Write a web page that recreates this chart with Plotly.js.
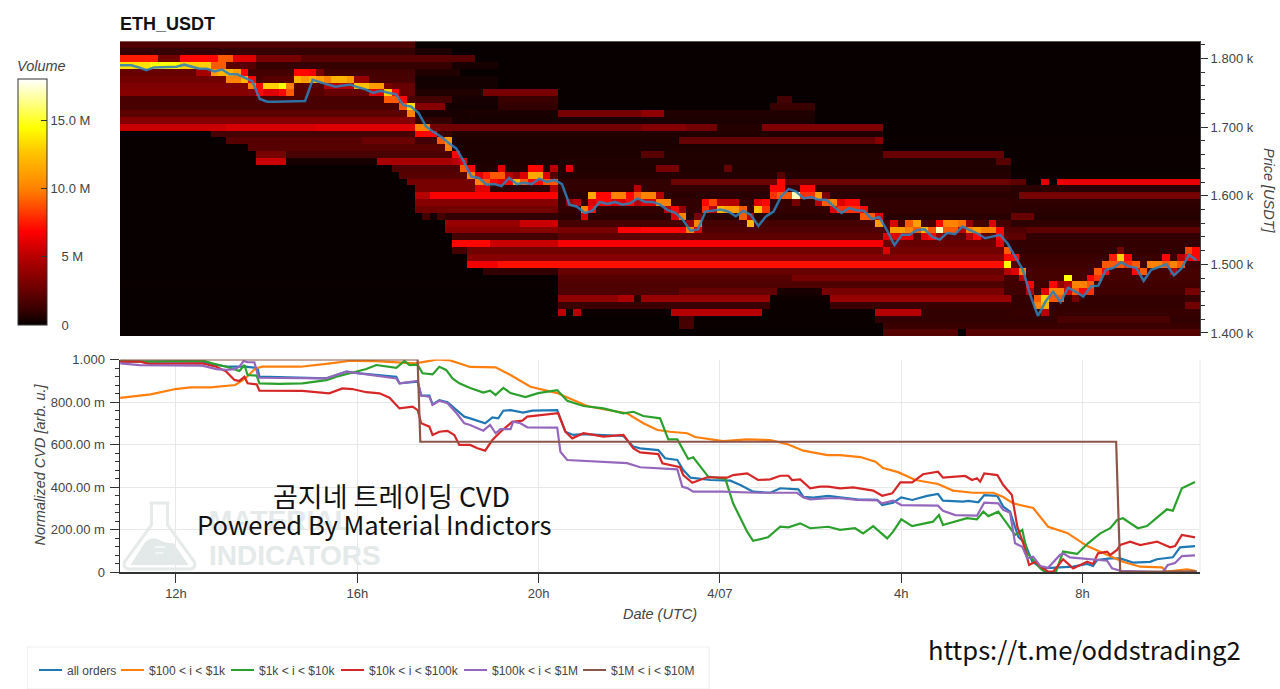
<!DOCTYPE html>
<html><head><meta charset="utf-8">
<script src="https://cdn.plot.ly/plotly-3.0.1.min.js"></script>
<style>html,body{margin:0;padding:0;background:#fff;overflow:hidden}#chart{width:1280px;height:689px}</style>
</head><body><div id="chart"></div>
<script>
// ---------- Volume heatmap: 10-minute columns, 10 USD price bins ----------
const firstHour = 10.765;
const columnCount = 143;
// each row: price, then pairs (end column, volume in M) read along the row
const volumeSpans = [
[1820, 39,1.8, 143,.05],
[1810, 39,1.1, 44,.5, 143,.05],
[1800, 5,7.5, 8,2.8, 13,7, 15,9, 18,6, 24,3, 47,2, 143,.05],
[1790, 4,13.5, 8,14.5, 12,13, 18,2, 44,1.1, 50,.4, 143,.05],
[1780, 10,2.5, 12,4.5, 39,1.5, 45,.6, 143,.05],
[1770, 14,2.8, 39,1.6, 50,.3, 143,.05],
[1760, 17,3.2, 27,2, 39,2.5, 50,.3, 143,.05],
[1750, 18,3.5, 27,2, 39,2.5, 48,.6, 58,3, 143,.05],
[1740, 39,1.6, 44,1.5, 50,.4, 58,1.2, 87,.05, 89,1.5, 143,.05],
[1730, 39,1.6, 43,3.5, 50,.3, 58,1, 86,.05, 92,1.2, 143,.05],
[1720, 39,2.2, 46,.4, 58,.5, 69,3, 72,3.8, 92,.6, 143,.05],
[1710, 39,3.4, 44,1, 58,.4, 92,.5, 143,.05],
[1700, 14,5.5, 26,5.8, 39,6, 69,2.8, 75,3.4, 79,2.8, 85,.7, 101,3.2, 143,.05],
[1690, 12,.05, 40,1.5, 44,1.2, 101,.6, 143,.05],
[1680, 14,.05, 32,2, 39,2.6, 44,1.5, 74,.5, 100,2.4, 101,3.5, 143,.08],
[1670, 17,.05, 44,2, 101,.5, 143,.08],
[1660, 18,.05, 22,3, 44,1.6, 69,.5, 72,2, 101,.6, 117,2.5, 143,.1],
[1650, 18,.05, 22,5.5, 34,.4, 44,4.5, 58,.5, 116,.6, 118,2, 143,.1],
[1640, 36,.05, 47,1.8, 71,.6, 74,3, 80,.6, 81,2.5, 118,.6, 143,.1],
[1630, 37,.05, 50,2, 87,.7, 88,2, 118,.7, 143,.15],
[1620, 38,.05, 48,3, 73,1, 87,2.6, 88,7, 118,2.6, 120,2.2, 122,.1, 123,6, 124,.1, 143,6.2],
[1610, 39,.05, 48,3, 118,1, 143,.8],
[1600, 39,.05, 41,5, 58,6.8, 118,.8, 119,.8, 143,3],
[1590, 39,.05, 58,3.5, 118,1, 143,.9],
[1580, 39,.05, 58,2.8, 118,1, 143,.8],
[1570, 40,.05, 41,1.5, 42,.3, 43,1.5, 58,1, 118,.8, 121,2.5, 143,.7],
[1560, 43,.05, 53,4, 58,5.5, 118,1.5, 143,.9],
[1550, 43,.05, 58,3.5, 66,3, 69,6.8, 75,7, 76,3, 120,1.8, 143,2.2],
[1540, 44,.05, 58,1.5, 120,2.2, 143,1],
[1530, 44,.05, 49,7, 58,5.5, 101,6.6, 117,2.5, 143,1],
[1520, 44,.05, 46,1.5, 117,2.8, 143,1],
[1510, 46,.05, 117,3.5, 143,1.2],
[1500, 46,.05, 50,6.5, 117,7.2, 143,1.3],
[1490, 48,.05, 58,1, 117,2.5, 143,1.5],
[1480, 58,.05, 89,2, 117,3, 143,1.5],
[1470, 58,.1, 117,1.8, 143,1.4],
[1460, 58,.05, 74,1.8, 87,2.4, 93,.4, 117,3, 141,1.3, 143,3],
[1450, 58,.05, 66,3.8, 68,4.6, 69,.8, 86,4, 94,.2, 118,4, 141,1, 143,1.2],
[1440, 58,.05, 86,1.2, 94,.1, 118,1.2, 141,1, 143,2.8],
[1430, 58,.05, 59,5, 60,.1, 61,5, 73,.1, 85,5, 100,.1, 106,5, 118,1, 143,1.1],
[1420, 74,.05, 76,1.5, 100,.1, 124,1, 139,1.6, 143,1],
[1410, 74,.05, 76,1.5, 101,.1, 143,1.2],
[1400, 101,.05, 111,2, 112,.05, 143,2]
];
// cells around the traded price: column, top price, then volumes going downwards
const hotCells = [
[12,1790,9,11],[13,1790,9,12],[14,1780,12,10],[15,1780,11,10],[16,1780,7,12],[17,1770,7,10],[18,1760,7,7],
[19,1770,2,13,6],[20,1770,2,13,6],[21,1770,2,14.5,7],[22,1770,2,10,9],[23,1780,7,12],[24,1780,7,11],[25,1780,6.5,12],
[26,1780,3,11],[27,1770,10,5],[28,1770,12,5],[29,1770,12,5],[30,1770,11,5],[31,1770,4,12.5],[32,1770,4,12.5],
[33,1760,11,6],[34,1760,11,6],[35,1760,3,13,9],[36,1750,7,9],[37,1740,7,9],[38,1730,13.5,10],[39,1700,10,7],[40,1700,10,7],
[41,1690,7],[42,1680,9],[43,1680,11,10],[44,1660,7,5],[45,1650,6,9],[46,1640,7,10],[47,1630,6,10,6],[48,1630,7.5,9,6],
[49,1630,9,7],[50,1640,6,9,6],[51,1630,5,7],[52,1630,4,12],[53,1630,6,9],[54,1640,7,11.5,7],[55,1640,7,11.5,7],
[56,1630,6,9],[57,1640,5,2,9,5],[59,1640,6],[59,1590,4],[60,1590,5],[61,1580,10,6],[62,1600,11.5,6,7],[63,1600,7,7],[64,1600,7,7],
[65,1600,10,6],[66,1600,10,6],[67,1600,7,7],[68,1610,5,9,5],[69,1600,10,6],[70,1600,10,6],[71,1600,5,10],[72,1590,10,5],
[73,1580,7,6],[74,1580,4,10],[75,1560,4,10],[76,1570,3,10,6],[77,1590,7,8],[78,1590,8.5,5],[79,1590,5,12],[80,1590,5,11],
[81,1590,5,11],[82,1580,9,9],[83,1570,5,12],[84,1590,6,12.5],[85,1590,7,8],[86,1610,7,8],[87,1620,7,7,9],[88,1600,9],
[89,1600,17,3],[90,1610,7,8],[91,1610,7,8],[92,1600,11,5],[93,1600,3,9],[94,1590,10,6],[95,1590,6,8],[96,1590,7,8],[97,1590,7,8],
[98,1580,7,9],[99,1570,9],[100,1570,6,11],[101,1540,6],[101,1520,6],[102,1560,6,11,6],[103,1550,11,6],[104,1560,9,10,6],
[105,1560,11,9],[106,1550,12,6],[107,1550,9,7],[108,1560,7,17,4],[109,1560,10,9],[110,1560,10,9],[111,1560,9.5,5],
[112,1560,4,10,5],[113,1550,11,7],[114,1550,10],[115,1560,6,10],[116,1550,7,7,6],[117,1520,9,7,14.5,5],[118,1510,7,2,6],
[119,1490,10,5],[120,1470,7,5],[121,1450,9,10],[122,1460,6,13,12,5],[123,1470,7,10,9],[124,1470,4,10,9],[125,1480,14.5,5,6],
[126,1470,10,9,3],[127,1470,10,7],[128,1480,7,9,8],[129,1490,9,8],[130,1500,9,7],[131,1510,7.5,9],[132,1520,3,13,9],
[133,1510,7,8],[134,1500,9,7],[135,1490,9],[136,1500,10],[137,1500,10],[138,1510,7,9],[139,1500,10,5],[140,1510,5,9],
[141,1520,8.5,7],[142,1520,7,7]
];
// traded price per 10-minute column
const priceValues = [
1790,1790,1787,1783,1787,1787,1788,1788,1791,1788,1785,1785,1781,1784,1777,1777,1772,1767,1741,1737,1737,1737,1737,1737,1738,
1769,1765,1762,1759,1761,1762,1758,1755,1750,1753,1750,1748,1732,1730,1721,1701,1693,1686,1677,1669,1650,1628,1626,1616,1617,
1614,1626,1617,1619,1617,1625,1620,1623,1617,1587,1584,1575,1578,1591,1588,1591,1587,1589,1596,1591,1591,1587,1579,1575,1565,
1549,1551,1577,1578,1580,1577,1570,1578,1572,1556,1570,1577,1599,1610,1606,1596,1598,1594,1594,1584,1575,1582,1579,1578,1566,
1569,1550,1528,1543,1543,1550,1551,1540,1536,1546,1544,1555,1550,1545,1538,1541,1543,1530,1511,1492,1455,1425,1446,1460,1445,
1466,1460,1453,1468,1469,1492,1495,1503,1497,1495,1476,1492,1496,1500,1484,1494,1514,1506
];
// ---------- Normalized CVD series (hours since 4/06 00:00) ----------
const allOrdersHours = [10.77,12.58,12.89,13.16,13.53,13.80,13.84,15.32,15.76,16.05,16.86,16.93,17.33,17.41,17.59,17.66,17.81,17.99,18.19,18.36,18.49,18.82,18.98,19.11,19.22,19.38,19.66,19.86,20.41,20.59,20.76,20.99,21.87,22.09,22.24,22.64,22.79,23.06,23.19,23.35,23.79,24.23,24.45,24.73,25.11,25.33,25.73,25.84,26.06,26.39,26.65,27.03,27.47,27.58,27.82,28.00,28.24,28.57,28.81,28.92,29.36,29.48,29.70,29.83,30.12,30.25,30.40,30.58,30.73,30.89,31.11,31.44,31.79,32.10,32.23,32.32,32.61,32.83,33.11,33.49,33.64,33.99,34.15,34.48];
const allOrdersValues = [.99,.99,.974,.966,.966,.96,.919,.911,.943,.935,.919,.888,.896,.83,.83,.789,.809,.799,.762,.731,.723,.70,.728,.723,.759,.762,.75,.759,.762,.66,.645,.649,.64,.59,.582,.574,.535,.527,.48,.444,.433,.43,.409,.378,.373,.394,.389,.354,.35,.358,.351,.342,.339,.315,.326,.351,.339,.358,.367,.336,.331,.335,.328,.362,.358,.307,.284,.166,.135,.048,.017,.02,.025,.038,.028,.056,.064,.064,.044,.048,.06,.069,.116,.122];
const orange100Hours = [10.77,11.44,11.99,12.32,12.76,13.31,13.53,13.75,13.91,14.75,15.41,15.85,16.40,17.28,17.50,17.77,18.05,18.49,19.05,19.38,19.82,20.41,20.70,21.07,21.43,21.95,22.31,22.62,22.90,23.28,23.45,23.79,24.07,24.60,25.11,25.48,25.84,26.37,26.65,27.10,27.43,27.60,27.93,28.31,28.81,29.14,29.58,30.03,30.25,30.47,30.91,31.24,31.66,32.10,32.54,32.89,33.27,33.75,33.86,34.08,34.30,34.48];
const orange100Values = [.819,.836,.861,.869,.869,.88,.911,.958,.966,.966,.982,.994,.992,.982,.99,1,.996,.965,.963,.927,.872,.842,.815,.781,.766,.747,.70,.668,.66,.653,.635,.626,.616,.624,.621,.602,.571,.55,.55,.541,.519,.489,.47,.433,.414,.383,.373,.373,.353,.323,.301,.213,.184,.122,.08,.048,.025,.022,.002,.006,.013,.006];
const green1kHours = [10.75,11.32,12.07,12.63,12.80,13.11,13.40,13.51,13.58,13.78,13.84,14.28,14.79,15.32,15.54,15.89,16.20,16.42,16.86,17.04,17.15,17.33,17.44,17.66,17.81,17.96,18.10,18.25,18.49,18.78,18.93,19.05,19.22,19.38,19.71,19.99,20.41,20.63,20.99,21.43,21.87,22.09,22.31,22.68,22.86,23.06,23.30,23.41,23.74,24.12,24.29,24.60,24.73,25.06,25.33,25.51,25.77,25.99,26.39,26.65,26.98,27.16,27.38,27.69,27.82,28.00,28.24,28.70,28.83,28.92,29.45,29.67,29.81,29.92,30.14,30.33,30.51,30.67,30.78,31.07,31.17,31.41,31.57,31.88,32.12,32.39,32.61,32.76,32.89,33.22,33.42,33.86,33.99,34.19,34.48];
const green1kValues = [.994,.99,.993,.993,.982,.966,.946,.974,.927,.924,.888,.885,.888,.903,.919,.94,.955,.974,.961,.993,.974,.976,.935,.93,.966,.951,.911,.888,.866,.844,.853,.833,.866,.842,.823,.842,.856,.806,.781,.77,.747,.754,.734,.723,.624,.624,.532,.54,.449,.438,.323,.19,.147,.163,.213,.21,.229,.206,.213,.198,.206,.182,.216,.158,.19,.248,.216,.237,.268,.221,.253,.248,.284,.263,.284,.229,.174,.198,.088,.017,0,0,.096,.085,.135,.182,.206,.245,.253,.206,.216,.295,.288,.394,.424];
const red10kHours = [10.77,11.20,11.42,12.58,12.89,13.11,13.29,13.40,13.51,13.58,13.78,13.84,14.79,15.38,15.67,15.89,16.20,16.49,16.71,16.93,17.22,17.33,17.41,17.59,17.66,17.81,17.99,18.14,18.25,18.41,18.49,18.65,18.82,18.98,19.16,19.42,19.64,19.75,20.08,20.43,20.59,20.74,20.99,21.43,21.87,22.09,22.24,22.64,22.73,23.12,23.19,23.39,23.72,24.16,24.29,24.60,24.84,25.11,25.33,25.51,25.59,25.77,25.99,26.21,26.39,26.65,26.94,27.38,27.58,27.80,27.98,28.24,28.48,28.81,28.92,29.41,29.56,29.67,29.74,29.83,30.12,30.25,30.44,30.56,30.69,30.82,30.96,31.07,31.24,31.35,31.57,31.79,32.10,32.23,32.34,32.54,32.61,32.76,32.83,33.05,33.27,33.64,33.93,34.04,34.19,34.48];
const red10kValues = [.99,.99,.979,.982,.966,.943,.904,.899,.919,.888,.883,.853,.852,.841,.864,.861,.846,.841,.82,.77,.778,.762,.70,.684,.645,.66,.664,.645,.598,.598,.598,.582,.571,.621,.66,.707,.712,.731,.739,.747,.66,.629,.653,.637,.645,.582,.563,.555,.512,.493,.456,.42,.446,.444,.456,.464,.433,.436,.453,.453,.433,.436,.394,.402,.402,.394,.398,.383,.359,.37,.422,.422,.46,.472,.444,.452,.433,.441,.425,.464,.456,.409,.362,.213,.135,.033,.048,.025,.002,.002,.06,.017,.048,.038,.088,.096,.08,.104,.127,.143,.127,.143,.116,.122,.174,.163];
const purple100kHours = [10.77,11.20,12.58,12.89,13.11,13.29,13.40,13.49,13.58,13.73,13.82,15.32,15.76,16.86,16.93,17.33,17.41,17.59,17.66,17.81,17.99,18.19,18.36,18.49,18.78,18.93,19.05,19.16,19.38,19.44,19.60,19.75,20.41,20.48,20.63,21.43,21.95,22.24,23.06,23.17,23.28,23.41,24.07,24.82,25.70,25.84,25.99,26.39,26.65,27.03,27.47,27.58,27.82,28.00,28.81,28.92,29.19,29.67,29.83,30.14,30.25,30.40,30.51,30.67,30.78,30.91,31.07,31.24,31.50,31.57,31.72,32.54,32.65,32.83,33.77,33.88,34.04,34.19,34.48];
const purple100kValues = [.982,.974,.971,.955,.951,.955,.966,.993,.987,.987,.914,.911,.943,.911,.888,.899,.83,.825,.786,.806,.794,.747,.70,.692,.665,.692,.653,.672,.672,.707,.70,.681,.679,.566,.527,.519,.512,.493,.483,.401,.395,.378,.378,.373,.373,.351,.342,.347,.347,.339,.337,.323,.336,.315,.312,.288,.268,.265,.326,.323,.292,.279,.135,.119,.064,.072,.028,.02,.08,.088,.069,.053,.017,.006,0,.033,.042,.075,.078];
const brown1mHours = [10.77,17.33,17.39,32.74,32.83,34.52];
const brown1mValues = [1,1,.613,.613,0,.003];
const seriesNames = ['all orders','$100 < i < $1k','$1k < i < $10k','$10k < i < $100k','$100k < i < $1M','$1M < i < $10M'];
const seriesColors = ['#1f77b4','#ff7f0e','#2ca02c','#d62728','#9467bd','#8c564b'];
// ---------- Axis labels ----------
const timeTickValues = [12,16,20,24,28,32];
const timeTickLabels = ['12h','16h','20h','4/07','4h','8h'];
const priceTickValues = [1400,1500,1600,1700,1800];
const priceTickLabels = ['1.400 k','1.500 k','1.600 k','1.700 k','1.800 k'];
const cvdTickValues = [0,.2,.4,.6,.8,1];
const cvdTickLabels = ['0','200.00 m','400.00 m','600.00 m','800.00 m','1.000'];
const volumeTickValues = [0,5,10,15];
const volumeTickLabels = ['\u00a0\u00a0\u00a00','\u00a0\u00a0\u00a05 M','10.0 M','15.0 M'];
// left edge of each legend entry, in pixels of the page
const legendEntryLeft = [27,109,219,329,452,571];

// ---------- Build ----------
const columnHours = Array.from({length:columnCount},(_,i)=>firstHour+(i+.5)/6);
const priceBins = volumeSpans.map(r=>r[0]).reverse();
const z = priceBins.map(()=>new Array(columnCount).fill(0));
volumeSpans.forEach(r=>{
  const row = z[priceBins.indexOf(r[0])];
  let c = 0;
  for(let k=1;k<r.length;k+=2){ for(;c<r[k];c++) row[c]=r[k+1]; }
});
hotCells.forEach(h=>{
  for(let k=2;k<h.length;k++){
    const idx = priceBins.indexOf(h[1]-(k-2)*10);
    if(idx>=0) z[idx][h[0]] = h[k];
  }
});
const TXT='#444';
const FONT='Liberation Sans, Arial, sans-serif';
const CJK='"Noto Sans CJK KR", "Noto Sans", sans-serif';
const L=119.5,R=1200,T=41,B=572;
const px=x=>(x-L)/(R-L), py=y=>(B-y)/(B-T);

const cvdHours=[allOrdersHours,orange100Hours,green1kHours,red10kHours,purple100kHours,brown1mHours];
const cvdValues=[allOrdersValues,orange100Values,green1kValues,red10kValues,purple100kValues,brown1mValues];
const traces=[{
  type:'heatmap',x:columnHours,y:priceBins,z:z,xaxis:'x2',yaxis:'y2',zmin:0,zmax:18,showlegend:false,hoverinfo:'skip',
  colorscale:[[0,'#060000'],[.06,'#360000'],[.15,'#6e0000'],[.28,'#b80000'],[.38,'#ff0000'],[.55,'#ff8000'],[.7,'#ffc400'],[.8,'#ffff00'],[1,'#ffffff']],
  colorbar:{x:px(17),xanchor:'left',xpad:0,y:py(325),yanchor:'bottom',ypad:0,
    len:267,lenmode:'pixels',thickness:29,thicknessmode:'pixels',outlinecolor:'#333',outlinewidth:1,
    tickmode:'array',tickvals:volumeTickValues,ticktext:volumeTickLabels,ticks:'inside',ticklen:6,tickcolor:'#333',
    tickfont:{family:FONT,size:13,color:TXT},
    title:{text:'Volume',side:'top',font:{family:FONT,size:14.5,style:'italic',color:TXT}}}
},{
  type:'scatter',mode:'lines',x:[firstHour].concat(columnHours),y:[priceValues[0]].concat(priceValues),xaxis:'x2',yaxis:'y2',
  showlegend:false,hoverinfo:'skip',opacity:.88,line:{color:'#2f7fb8',width:2.5}
}];
seriesNames.forEach((n,i)=>traces.push({type:'scatter',mode:'lines',name:n,x:cvdHours[i],y:cvdValues[i],xaxis:'x',yaxis:'y',
  legend:i?('legend'+(i+1)):'legend',line:{color:seriesColors[i],width:2.2}}));

const flask = `<svg xmlns="http://www.w3.org/2000/svg" viewBox="0 0 76 70"><path d="M28 2h20M30 2v22L3 61q-2 7 6 7h58q8 0 6-7L46 24V2" fill="none" stroke="#e6ebea" stroke-width="3"/><path d="M9 64l14-22q7-7 15-3t14 3l15 22z" fill="#e3e9e8"/><path d="M33 46h11M34 52h8" stroke="#f4f6f6" stroke-width="2"/></svg>`;

const layout={
  width:1280,height:689,paper_bgcolor:'#fff',plot_bgcolor:'#fff',
  margin:{l:L,r:1280-R,t:T,b:689-B,autoexpand:false},
  font:{family:FONT,size:12,color:TXT},
  title:{text:'<b>ETH_USDT</b>',x:120/1280,xanchor:'left',xref:'container',y:1-24/689,yanchor:'middle',yref:'container',font:{family:FONT,size:18,color:'#111'}},
  showlegend:true,
  xaxis:{domain:[0,1],anchor:'y',range:[10.765,34.59],tickmode:'array',tickvals:timeTickValues,ticktext:timeTickLabels,
    ticks:'outside',ticklen:9,tickcolor:'#333',showgrid:true,gridcolor:'#e8e8e8',showline:true,linecolor:'#333',linewidth:1.5,zeroline:false,
    title:{text:'Date (UTC)',standoff:9,font:{family:FONT,size:14.5,style:'italic',color:TXT}},tickfont:{family:FONT,size:13,color:TXT}},
  yaxis:{domain:[0,212.5/531],anchor:'x',range:[0,1],tickmode:'array',tickvals:cvdTickValues,ticktext:cvdTickLabels,
    ticks:'outside',ticklen:9,tickcolor:'#333',ticklabelstandoff:2,showgrid:true,gridcolor:'#e8e8e8',showline:true,linecolor:'#333',linewidth:1.5,zeroline:false,
    minor:{dtick:.04,tick0:0,tickmode:'linear',ticks:'outside',ticklen:4,tickcolor:'#333',showgrid:false},
    tickfont:{family:FONT,size:13,color:TXT}},
  xaxis2:{domain:[0,1],anchor:'y2',matches:'x',visible:false,showgrid:false},
  yaxis2:{domain:[(B-336)/531,1],anchor:'x2',side:'right',range:[1395.6,1825.5],tickmode:'array',tickvals:priceTickValues,ticktext:priceTickLabels,
    ticks:'outside',ticklen:7,tickcolor:'#333',showgrid:false,showline:true,linecolor:'#444',linewidth:1,zeroline:false,
    minor:{dtick:20,tick0:1400,tickmode:'linear',ticks:'outside',ticklen:4,tickcolor:'#333',showgrid:false},
    tickfont:{family:FONT,size:13,color:TXT}},
  shapes:[
    {type:'rect',xref:'paper',yref:'paper',x0:px(27),x1:px(709),y0:py(689),y1:py(647),line:{color:'#efefef',width:1},fillcolor:'rgba(255,255,255,0)'},
    {type:'line',xref:'paper',yref:'paper',x0:1,x1:1,y0:0,y1:212.5/531,line:{color:'#e8e8e8',width:1}}
  ],
  images:[{source:'data:image/svg+xml;utf8,'+encodeURIComponent(flask),xref:'paper',yref:'paper',x:px(121),y:py(501),sizex:76/(R-L),sizey:70/(B-T),
    xanchor:'left',yanchor:'top',sizing:'stretch',layer:'below'}],
  annotations:[
    {text:'Normalized CVD [arb. u.]',textangle:-90,xref:'paper',yref:'paper',x:px(39),y:py(465),xanchor:'center',yanchor:'middle',showarrow:false,font:{family:FONT,size:14.5,style:'italic',color:TXT}},
    {text:'Price [USDT]',textangle:90,xref:'paper',yref:'paper',x:px(1269),y:py(191),xanchor:'center',yanchor:'middle',showarrow:false,font:{family:FONT,size:14.5,style:'italic',color:TXT}},
    {text:'<b>MATERIAL</b>',xref:'paper',yref:'paper',x:px(207),y:py(520),xanchor:'left',yanchor:'middle',showarrow:false,font:{family:FONT,size:28,color:'#e4e9e9'}},
    {text:'<b>INDICATORS</b>',xref:'paper',yref:'paper',x:px(207),y:py(555),xanchor:'left',yanchor:'middle',showarrow:false,font:{family:FONT,size:28,color:'#e4e9e9'}},
    {text:'곰지네 트레이딩 CVD',xref:'paper',yref:'paper',x:px(391.5),y:py(495),xanchor:'center',yanchor:'middle',showarrow:false,font:{family:CJK,size:27,color:'#111'}},
    {text:'Powered By Material Indictors',xref:'paper',yref:'paper',x:px(374),y:py(523),xanchor:'center',yanchor:'middle',showarrow:false,font:{family:CJK,size:25.6,color:'#111'}},
    {text:'https://t.me/oddstrading2',xref:'paper',yref:'paper',x:px(1084.5),y:py(648),xanchor:'center',yanchor:'middle',showarrow:false,font:{family:CJK,size:25.6,color:'#111'}}
  ]
};
legendEntryLeft.forEach((left,i)=>{
  layout[i?('legend'+(i+1)):'legend']={orientation:'h',xref:'container',yref:'container',x:left/1280,xanchor:'left',y:1-670/689,yanchor:'middle',
    font:{family:FONT,size:12,color:TXT},itemwidth:30,bgcolor:'rgba(0,0,0,0)'};
});
Plotly.newPlot('chart',traces,layout,{displayModeBar:false,staticPlot:true}).then(()=>{
  // the reference's legend keys are shorter than Plotly's minimum
  document.querySelectorAll('.legendlines path').forEach(p=>p.setAttribute('d','M12,0h23'));
});
</script></body></html>
